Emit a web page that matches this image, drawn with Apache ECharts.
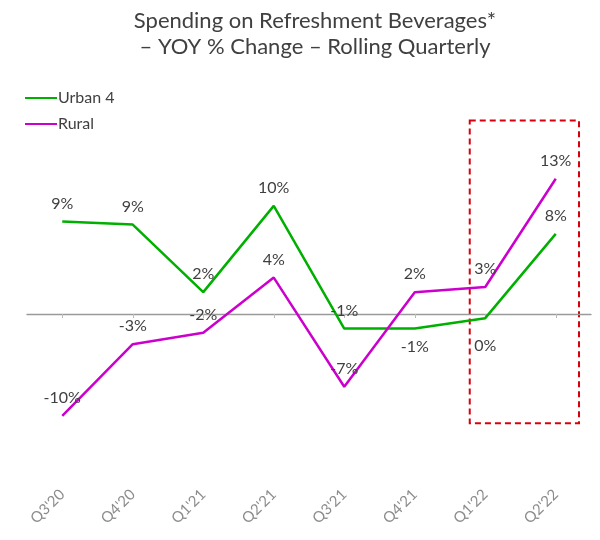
<!DOCTYPE html>
<html>
<head>
<meta charset="utf-8">
<script src="https://cdn.jsdelivr.net/npm/echarts@6/dist/echarts.min.js"></script>
<style>
html,body{margin:0;padding:0;background:#fff;}
#main{width:600px;height:540px;}
</style>
</head>
<body>
<div id="main"></div>
<script>
var categories = ["Q3'20", "Q4'20", "Q1'21", "Q2'21", "Q3'21", "Q4'21", "Q1'22", "Q2'22"];
var urban4 = [8.9, 8.6, 2.1, 10.4, -1.4, -1.4, -0.4, 7.7];
var rural = [-9.8, -2.9, -1.8, 3.5, -7.0, 2.1, 2.6, 13.0];
var urbanLabelPos = ['top', 'top', 'top', 'top', 'top', 'bottom', 'bottom', 'top'];
var ruralLabelPos = ['top', 'top', 'top', 'top', 'top', 'top', 'top', 'top'];

var FONT = 'Lato, "Noto Sans", sans-serif';
function fmt(p) { var v = Math.round(p.value); if (v === 0) v = 0; return v + '%'; }
function build(vals, pos) {
  return vals.map(function (v, i) {
    var item = { value: v, label: { position: pos[i] } };
    if (Math.round(v) === 0) item.label.distance = 20;
    return item;
  });
}

var chart = echarts.init(document.getElementById('main'));
chart.setOption({
  animation: false,
  backgroundColor: '#fff',
  title: {
    text: 'Spending on Refreshment Beverages*\n– YOY % Change – Rolling Quarterly',
    left: 310, textAlign: 'center', top: 3,
    textStyle: { fontFamily: FONT, fontSize: 22, fontWeight: 'normal', color: '#404040', lineHeight: 26 }
  },
  legend: {
    orient: 'vertical', left: 20, top: 85, itemGap: 10,
    icon: 'rect', itemWidth: 32, itemHeight: 2,
    textStyle: { fontFamily: FONT, fontSize: 16, color: '#404040', padding: [0, 0, 0, -4] },
    data: ['Urban 4', 'Rural']
  },
  grid: { left: 27, right: 9, top: 106, height: 364 },
  xAxis: [{
    type: 'category', data: categories, boundaryGap: true, position: 'bottom',
    axisLine: { show: false, onZero: false }, axisTick: { show: false },
    axisLabel: { rotate: 45, margin: 22, fontFamily: FONT, fontSize: 15, color: '#8c8c8c' }
  }, {
    type: 'category', data: categories, boundaryGap: true, position: 'top',
    axisLine: { show: true, onZero: true, lineStyle: { color: '#9a9a9a', width: 1.3 } },
    axisTick: { show: true, inside: true, alignWithLabel: true, length: 4, lineStyle: { color: '#bbb' } },
    axisLabel: { show: false }
  }],
  yAxis: { type: 'value', min: -15, max: 20, show: false, splitLine: { show: false } },
  series: [{
    name: 'Urban 4', type: 'line', data: build(urban4, urbanLabelPos),
    symbol: 'circle', symbolSize: 0, showSymbol: true, color: '#00b000', lineStyle: { width: 2.5, color: '#00b000' },
    label: { show: true, formatter: fmt, distance: 10, fontFamily: FONT, fontSize: 16, color: '#404040' }
  }, {
    name: 'Rural', type: 'line', data: build(rural, ruralLabelPos),
    symbol: 'circle', symbolSize: 0, showSymbol: true, color: '#cc00cc', lineStyle: { width: 2.5, color: '#cc00cc' },
    label: { show: true, formatter: fmt, distance: 10, fontFamily: FONT, fontSize: 16, color: '#404040' }
  }]
});

// Dashed highlight box around the last two quarters, placed from the axes
var p6 = chart.convertToPixel({ xAxisIndex: 0 }, categories[6]);
var p7 = chart.convertToPixel({ xAxisIndex: 0 }, categories[7]);
var step = p7 - p6;
var yTop = chart.convertToPixel({ yAxisIndex: 0 }, 18.6);
var yBot = chart.convertToPixel({ yAxisIndex: 0 }, -10.5);
var x0 = p6 - 0.22 * step, x1 = p7 + 0.33 * step;
chart.setOption({
  graphic: [{
    type: 'rect', silent: true,
    shape: { x: x0, y: yTop, width: x1 - x0, height: yBot - yTop },
    style: { fill: 'none', stroke: '#d9000d', lineWidth: 2, lineDash: [6, 4] }
  }]
});
</script>
</body>
</html>
